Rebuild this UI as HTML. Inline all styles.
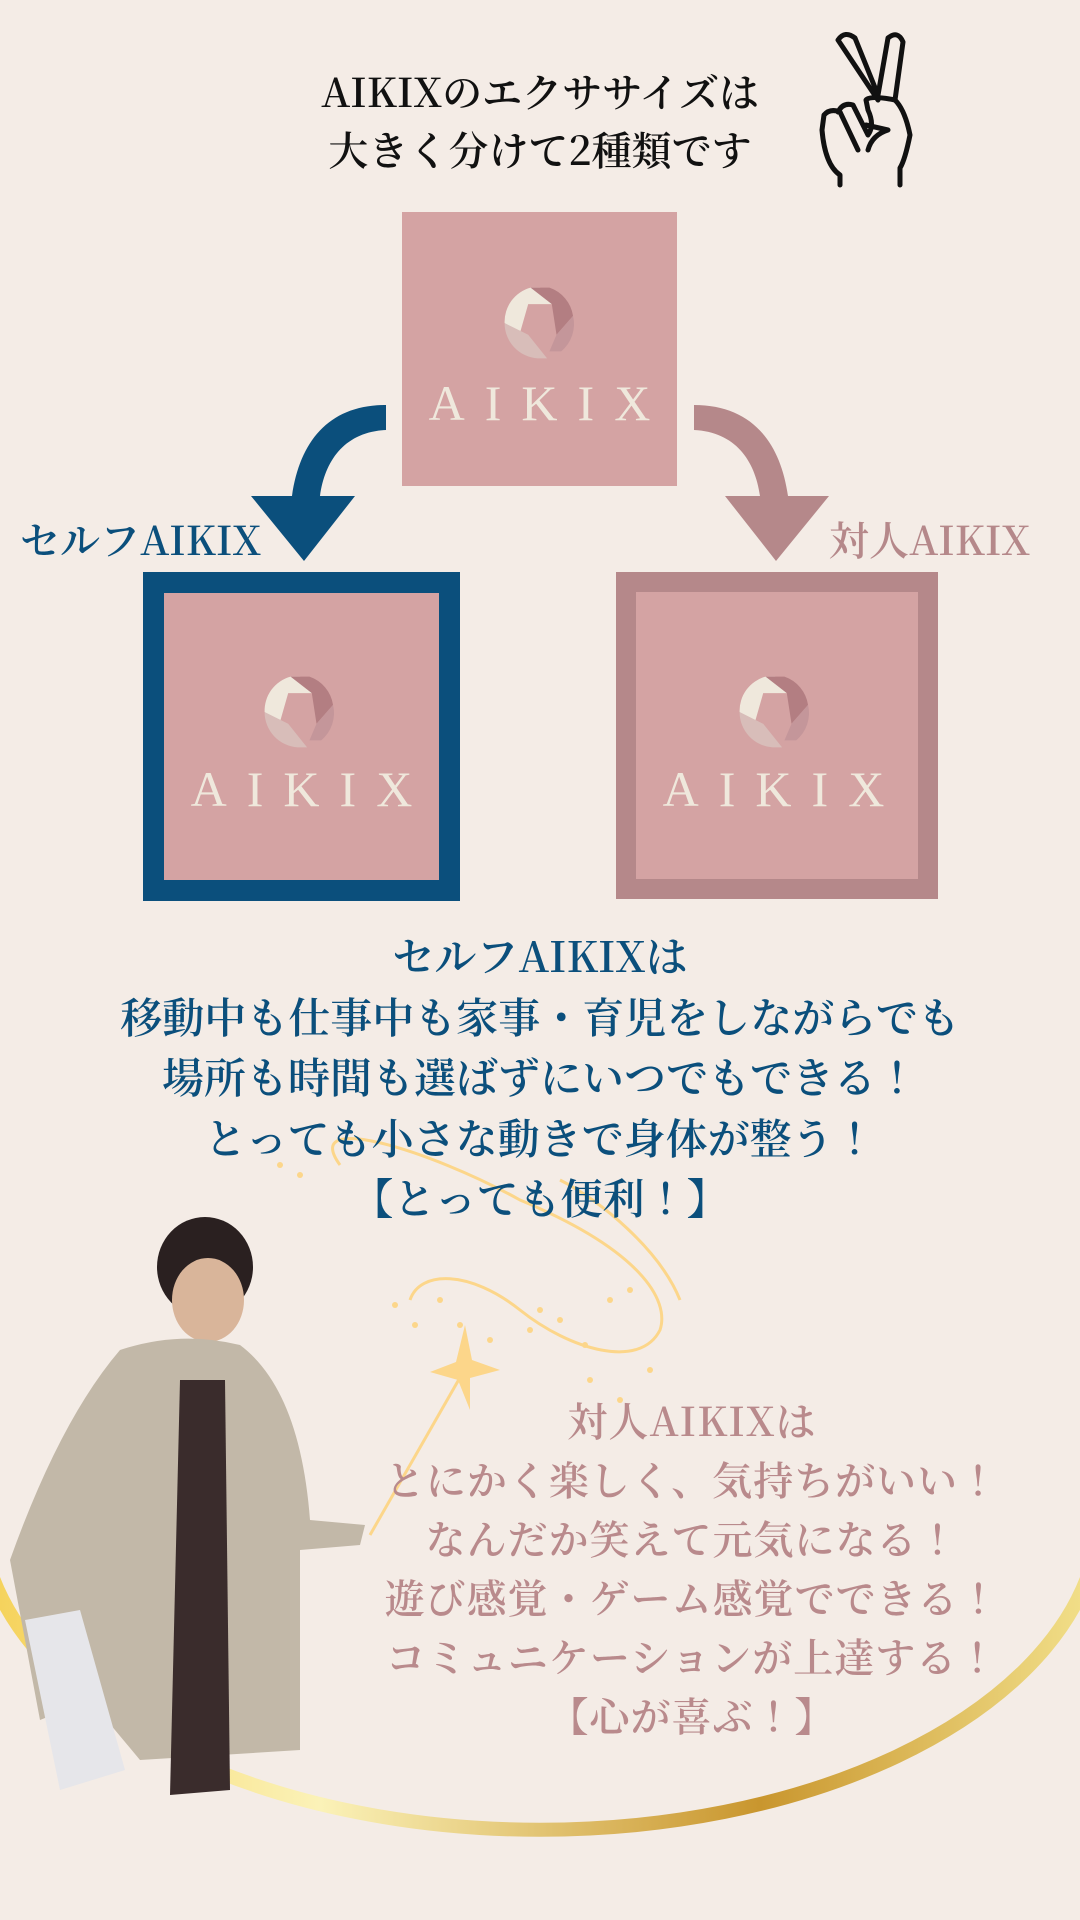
<!DOCTYPE html>
<html><head><meta charset="utf-8"><style>
body{margin:0;width:1080px;height:1920px;background:#f4ece6;position:relative;overflow:hidden;font-family:"Noto Serif CJK JP","Liberation Serif",serif}
.t{position:absolute;left:0;width:1080px;text-align:center;white-space:nowrap;font-weight:600}
.sq{position:absolute;background:#d4a3a3}
.ak{position:absolute;color:#efe8dc;font-size:50px;letter-spacing:20px;font-family:"Liberation Serif",serif;text-align:center}
</style></head><body>
<svg width="1080" height="1920" style="position:absolute;left:0;top:0">
<defs><linearGradient id="g" x1="0" x2="1"><stop offset="0" stop-color="#f5d25a"/><stop offset="0.3" stop-color="#fbf2b8"/><stop offset="0.7" stop-color="#c9962e"/><stop offset="1" stop-color="#f2e08a"/></linearGradient>
<g id="logo" transform="scale(1.18)"><path d="M-8,-30 A30,30 0 0 0 -30,0 L-18,12 L-10,-16 L10,-16 L0,-30 Z" fill="#efe8dc"/><path d="M-8,-30 L8,-30 A30,30 0 0 1 28,-6 L14,10 L10,-16 Z" fill="#b37e82"/><path d="M28,-6 A30,30 0 0 1 18,24 L8,24 L14,10 Z" fill="#c4969a"/><path d="M-30,0 A30,30 0 0 0 -2,30 L6,30 L-10,10 Z" fill="#d8bdb9"/></g></defs>
<path d="M-10,1570 A560,320 0 0 0 1090,1570" fill="none" stroke="url(#g)" stroke-width="14"/>
<path d="M386,405 C330,405 300,440 292,496 L251,496 L304,561 L355,496 L320,496 C325,460 345,432 386,430 Z" fill="#0b4f7c"/>
<path d="M694,405 C750,405 780,440 788,496 L829,496 L776,561 L725,496 L760,496 C755,460 735,432 694,430 Z" fill="#b5888a"/>
<g fill="none" stroke="#fcd68a" stroke-width="3"><path d="M340,1165 C300,1110 430,1150 520,1200 C640,1250 670,1300 660,1330 C640,1370 570,1350 520,1310 C470,1270 420,1270 410,1300"/><path d="M560,1180 C600,1200 660,1250 680,1300"/><path d="M470,1360 L370,1535"/></g>
<g fill="#fcd68a"><path d="M465,1325 L472,1360 L500,1370 L470,1378 L470,1410 L458,1380 L430,1372 L456,1362 Z"/>
<circle cx="280" cy="1165" r="3"/><circle cx="300" cy="1175" r="3"/><circle cx="395" cy="1305" r="3"/><circle cx="415" cy="1325" r="3"/><circle cx="440" cy="1300" r="3"/><circle cx="460" cy="1325" r="3"/><circle cx="490" cy="1340" r="3"/><circle cx="530" cy="1330" r="3"/><circle cx="560" cy="1320" r="3"/><circle cx="585" cy="1345" r="3"/><circle cx="610" cy="1300" r="3"/><circle cx="630" cy="1290" r="3"/><circle cx="650" cy="1370" r="3"/><circle cx="620" cy="1400" r="3"/><circle cx="590" cy="1380" r="3"/><circle cx="540" cy="1310" r="3"/></g>
<g fill="none" stroke="#111" stroke-width="5" stroke-linejoin="round" stroke-linecap="round"><path d="M878,100 L838,40 Q845,30 855,38 L878,95 M878,95 L888,38 Q898,30 903,42 L895,100"/><path d="M840,185 L840,175 Q825,165 822,130 L824,115 Q830,108 840,112 L858,150 M838,112 Q843,102 853,105 L868,135 M868,135 Q875,125 868,110 L866,100 Q870,95 895,100 Q905,110 910,135 Q905,160 900,168 L900,185 M866,125 L888,130 M868,150 Q872,135 888,130"/></g>
<ellipse cx="205" cy="1267" rx="48" ry="50" fill="#2a2020"/><ellipse cx="208" cy="1300" rx="36" ry="42" fill="#d9b59a"/>
<path d="M120,1350 Q180,1330 240,1345 Q300,1390 310,1520 L365,1525 L360,1545 L300,1550 L300,1750 L140,1760 L90,1700 L40,1720 L10,1560 Q60,1420 120,1350 Z" fill="#c2b8a8"/>
<path d="M180,1380 L225,1380 L230,1790 L170,1795 Z" fill="#3a2c2c"/>
<path d="M25,1620 L80,1610 L125,1770 L60,1790 Z" fill="#e6e6ea"/>
</svg>
<div class="t" style="top:62px;font-size:40px;line-height:58px;color:#111">AIKIXのエクササイズは<br>大きく分けて2種類です</div>
<div class="sq" style="left:402px;top:212px;width:275px;height:274px"></div>
<svg width="90" height="90" style="position:absolute;left:495px;top:278px"><use href="#logo" x="45" y="45"/></svg>
<div class="ak" style="left:402px;width:295px;top:374px">AIKIX</div>
<div style="position:absolute;left:20px;top:510px;font-size:40px;color:#0b4f7c;font-weight:600">セルフAIKIX</div>
<div style="position:absolute;left:829px;top:510px;font-size:40px;color:#b5888a;font-weight:600">対人AIKIX</div>
<div class="sq" style="left:143px;top:572px;width:275px;height:287px;border:21px solid #0b4f7c"></div>
<div class="sq" style="left:616px;top:572px;width:282px;height:287px;border:20px solid #b5888a"></div>
<svg width="90" height="90" style="position:absolute;left:255px;top:667px"><use href="#logo" x="45" y="45"/></svg>
<svg width="90" height="90" style="position:absolute;left:730px;top:667px"><use href="#logo" x="45" y="45"/></svg>
<div class="ak" style="left:164px;width:295px;top:760px">AIKIX</div>
<div class="ak" style="left:636px;width:295px;top:760px">AIKIX</div>
<div class="t" style="top:925px;font-size:42px;line-height:60.5px;color:#0b4f7c">セルフAIKIXは<br>移動中も仕事中も家事・育児をしながらでも<br>場所も時間も選ばずにいつでもできる！<br>とっても小さな動きで身体が整う！<br>【とっても便利！】</div>
<div class="t" style="left:152px;top:1390px;font-size:40px;line-height:59px;color:#b98a8c;letter-spacing:1px">対人AIKIXは<br>とにかく楽しく、気持ちがいい！<br>なんだか笑えて元気になる！<br>遊び感覚・ゲーム感覚でできる！<br>コミュニケーションが上達する！<br>【心が喜ぶ！】</div>
</body></html>
